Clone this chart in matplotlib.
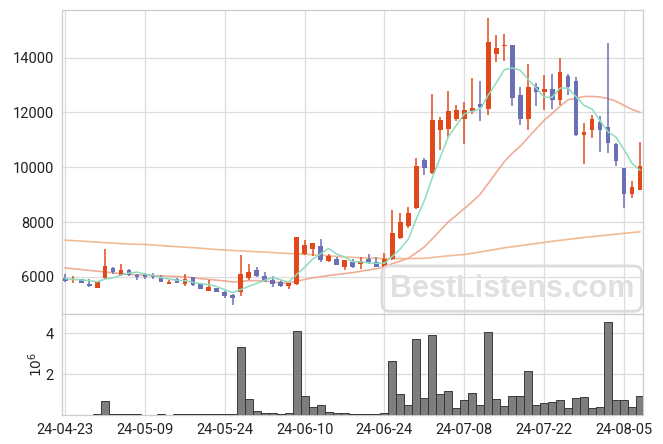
import numpy as np
import pandas as pd
import matplotlib
matplotlib.use("Agg")
import matplotlib.pyplot as plt

plt.rcParams['font.family'] = ['Roboto', 'DejaVu Sans']

# daily candles, 24-04-23 .. 24-08-07 (trading days)
opens = [5960, 5905, 5915, 5745, 5600, 5980, 6320, 6075, 6245, 6060,
         6110, 6050, 6000, 5745, 5940, 5745, 5990, 5745, 5490, 5585,
         5465, 5340, 5450, 5965, 6245, 6025, 5880, 5815, 5660, 5745,
         6830, 7025, 7125, 6585, 6655, 6365, 6540, 6475, 6650, 6540,
         6365, 6640, 7430, 7865, 8525, 10280, 9795, 11345, 11380, 11770,
         11770, 12055, 12310, 12115, 14125, 14420, 14445, 12640, 11745, 12930,
         12735, 12860, 12465, 13320, 13135, 11160, 11370, 11660, 11465, 10855,
         9980, 9040, 9185]
highs = [6120, 6025, 5930, 5920, 5850, 7010, 6360, 6465, 6300, 6120,
         6140, 6130, 6060, 5900, 5950, 6090, 6010, 5760, 5905, 5590,
         5490, 5390, 6795, 6490, 6365, 6180, 6025, 5880, 5780, 7440,
         7330, 7230, 7370, 6830, 6720, 6620, 6650, 6730, 6855, 6710,
         6880, 8430, 8320, 8540, 10330, 10330, 12675, 11835, 12770, 12285,
         12370, 13260, 13160, 15455, 14810, 14870, 14470, 12920, 13775, 13080,
         13355, 13410, 13995, 13410, 13300, 11615, 11895, 11855, 14545, 10880,
         9990, 9515, 10920]
lows = [5820, 5795, 5770, 5625, 5595, 5940, 6120, 6035, 6035, 5900,
        5920, 5920, 5800, 5745, 5775, 5685, 5660, 5560, 5488, 5445,
        5215, 4965, 5295, 5905, 6010, 5820, 5620, 5620, 5550, 5710,
        6795, 6770, 6530, 6530, 6420, 6270, 6340, 6280, 6470, 6360,
        6360, 6620, 7370, 7780, 8480, 9720, 9760, 10640, 11100, 11675,
        10855, 11940, 11700, 11915, 13845, 13870, 12235, 11540, 11370, 12235,
        12075, 12140, 12285, 12625, 11150, 10135, 11065, 10555, 10515, 10050,
        8505, 8890, 9180]
closes = [5860, 5940, 5785, 5675, 5840, 6390, 6170, 6245, 6075, 6005,
          5990, 6000, 5815, 5815, 5780, 5915, 5700, 5575, 5620, 5450,
          5295, 5230, 6125, 6170, 6025, 5855, 5745, 5660, 5770, 7440,
          7160, 7220, 6620, 6760, 6440, 6610, 6365, 6600, 6540, 6365,
          6650, 7600, 8000, 8320, 10050, 9990, 11735, 11735, 12065, 12100,
          12100, 12175, 12185, 14580, 14360, 14455, 12515, 11770, 12930, 12735,
          12860, 12440, 13465, 12920, 11160, 11295, 11770, 11345, 10880, 10210,
          9040, 9270, 10050]
volumes = [5000, 5000, 5000, 5000, 30000, 670000, 30000, 30000, 30000, 30000,
           0, 5000, 30000, 5000, 30000, 30000, 30000, 30000, 60000, 30000,
           30000, 30000, 3330000, 780000, 180000, 120000, 120000, 30000, 80000, 4120000,
           920000, 370000, 470000, 170000, 120000, 120000, 70000, 40000, 40000, 40000,
           120000, 2630000, 1020000, 470000, 3720000, 820000, 3920000, 1020000, 1170000, 330000,
           720000, 1070000, 470000, 4070000, 780000, 420000, 920000, 920000, 2170000, 470000,
           570000, 620000, 720000, 330000, 820000, 870000, 330000, 370000, 4570000, 720000,
           720000, 370000, 920000]

# moving-average values before enough history is on the chart
ma5_head = [5940, 5910, 5890, 5870]
ma20_head = [6330, 6300, 6270, 6240, 6210, 6183, 6150, 6120, 6095, 6075,
             6062, 6050, 6040, 6030, 6015, 6000, 5970, 5940, 5910]
ma_long = [7340, 7325, 7305, 7290, 7270, 7250, 7235, 7215, 7200, 7190,
           7185, 7165, 7145, 7125, 7105, 7085, 7065, 7045, 7020, 7000,
           6980, 6965, 6950, 6935, 6920, 6905, 6890, 6870, 6855, 6840,
           6830, 6810, 6790, 6770, 6750, 6730, 6715, 6700, 6690, 6680,
           6675, 6670, 6670, 6670, 6675, 6680, 6710, 6740, 6770, 6795,
           6820, 6865, 6910, 6960, 7010, 7060, 7100, 7140, 7180, 7220,
           7260, 7300, 7335, 7370, 7405, 7440, 7470, 7500, 7530, 7560,
           7590, 7620, 7645]

tick_labels = ['24-04-23', '24-05-09', '24-05-24', '24-06-10',
               '24-06-24', '24-07-08', '24-07-22', '24-08-05']

UP = '#e2491a'
DOWN = '#6b6fb5'
GRID = '#dddddd'

df = pd.DataFrame({'open': opens, 'high': highs, 'low': lows,
                   'close': closes, 'volume': volumes})
x = np.arange(len(df))

ma5 = df['close'].rolling(5).mean().values
ma5[:len(ma5_head)] = ma5_head
ma20 = df['close'].rolling(20).mean().values
ma20[:len(ma20_head)] = ma20_head

fig = plt.figure(figsize=(6.63, 4.44), dpi=100)
ax = fig.add_axes([0.0935, 0.2928, 0.8765, 0.6858])
axv = fig.add_axes([0.0935, 0.0653, 0.8765, 0.2275], sharex=ax)

up = df['close'] >= df['open']
colors = np.where(up, UP, DOWN)
body_lo = np.minimum(df['open'], df['close'])
body_h = np.abs(df['close'] - df['open']).clip(lower=25)

ax.vlines(x, df['low'], df['high'], colors=colors, linewidth=1.1, zorder=3)
ax.bar(x, body_h, bottom=body_lo, width=0.6, color=colors, linewidth=0, zorder=4)

ax.plot(x, ma5, color='#8edcc0', lw=1.1, zorder=5)
ax.plot(x, ma20, color='#eea48a', lw=1.2, alpha=0.9, zorder=2)
ax.plot(x, ma_long, color='#efb488', lw=1.2, alpha=0.9, zorder=2)

ax.set_ylim(4650, 15750)
ax.set_yticks([6000, 8000, 10000, 12000, 14000])
ax.set_xlim(-0.4, len(df) - 0.6)
ax.set_xticks(np.arange(0, len(df), 10))
ax.tick_params(axis='x', labelbottom=False, length=0)
ax.tick_params(axis='y', length=0, labelsize=10.5, colors='#222222', pad=6)
ax.grid(True, color=GRID, lw=0.9)
ax.set_axisbelow(True)

axv.bar(x, df['volume'] / 1e6, width=1.0, color='#777777',
        edgecolor='#333333', linewidth=0.7, alpha=0.95, zorder=3)
axv.set_ylim(0, 4.95)
axv.set_yticks([2, 4])
axv.set_xticks(np.arange(0, len(df), 10))
axv.set_xticklabels(tick_labels)
axv.tick_params(length=0, labelsize=10.5, colors='#222222', pad=6)
axv.set_ylabel(r'$10^6$', fontsize=10, color='#222222', labelpad=0)
axv.grid(True, color=GRID, lw=0.9)
axv.set_axisbelow(True)

for a in (ax, axv):
    for s in a.spines.values():
        s.set_color('#cccccc')
        s.set_linewidth(0.9)

# watermark
fig.text(0.772, 0.35, 'BestListens.com', fontsize=22, fontweight='bold',
         family='Liberation Sans', color='#e0e0e0', ha='center', va='center',
         bbox=dict(boxstyle='round,pad=0.25', fc='none', ec='#dcdcdc', lw=2))

fig.savefig('out.png', dpi=100)
